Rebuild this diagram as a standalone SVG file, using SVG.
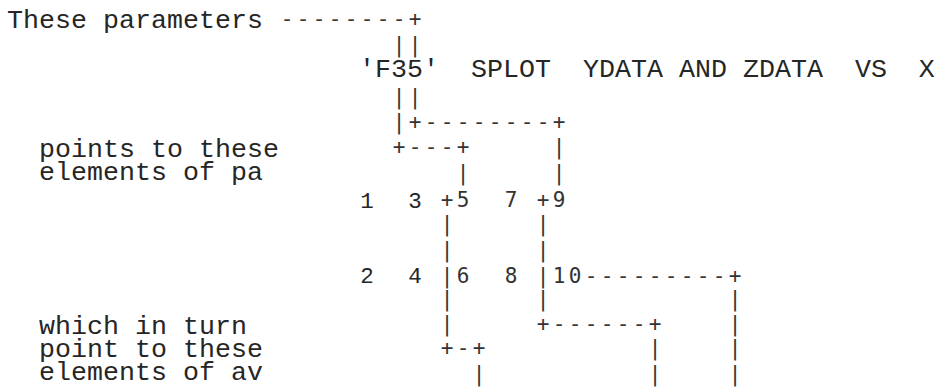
<svg xmlns="http://www.w3.org/2000/svg" width="940" height="391" viewBox="0 0 940 391">
<style>
.t{font-family:"Liberation Mono","Courier New",monospace;font-size:26.67px;fill:#262626;white-space:pre}
.d{font-family:"Liberation Mono","Courier New",monospace;font-size:22.5px;fill:#262626}
.c{font-family:"DejaVu Sans Mono",monospace;font-size:21px;letter-spacing:3.36px;fill:#333;white-space:pre}
</style>
<rect width="940" height="391" fill="#fff"/>
<g id="labels">
<text class="t" x="7" y="28" xml:space="preserve">These parameters</text>
<text class="t" xml:space="preserve"><tspan x="39" y="157">points to these</tspan><tspan x="39" y="180">elements of pa</tspan></text>
<text class="t" xml:space="preserve"><tspan x="39" y="334">which in turn</tspan><tspan x="39" y="357">point to these</tspan><tspan x="39" y="380">elements of av</tspan></text>
</g>
<g id="statement">
<text class="t" x="359" y="77" xml:space="preserve">'F35'  SPLOT  YDATA AND ZDATA  VS  X</text>
</g>
<g id="pa-elements">
<text class="d" x="360.25 408.25" y="208">13</text>
<text class="d" x="360.25 408.25" y="283">24</text>
</g>
<g id="connectors">
<text class="c" x="280.68" y="26" xml:space="preserve">--------+</text>
<text class="c" x="392.68" y="52" xml:space="preserve">||</text>
<text class="c" x="392.68" y="104" xml:space="preserve">||</text>
<text class="c" x="392.68" y="129" xml:space="preserve">|+--------+</text>
<text class="c" x="392.68" y="154" xml:space="preserve">+---+     |</text>
<text class="c" x="456.68" y="180" xml:space="preserve">|     |</text>
<text class="c" x="440.68" y="207" xml:space="preserve">+5  7 +9</text>
<text class="c" x="440.68" y="231" xml:space="preserve">|     |</text>
<text class="c" x="440.68" y="257" xml:space="preserve">|     |</text>
<text class="c" x="440.68" y="283" xml:space="preserve">|6  8 |10---------+</text>
<text class="c" x="440.68" y="306" xml:space="preserve">|     |           |</text>
<text class="c" x="440.68" y="331" xml:space="preserve">|     +------+    |</text>
<text class="c" x="440.68" y="355" xml:space="preserve">+-+          |    |</text>
<text class="c" x="472.68" y="381" xml:space="preserve">|          |    |</text>
</g>
</svg>
